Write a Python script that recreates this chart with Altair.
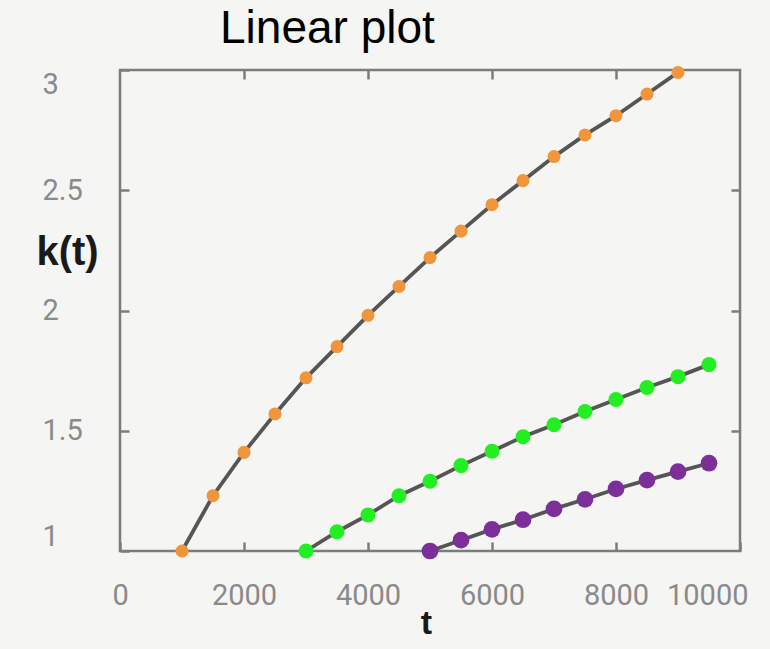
import altair as alt
import pandas as pd

# ---- data ----
series_names = ["t_i = 1000", "t_i = 3000", "t_i = 5000"]
series_colors = ["#F1953D", "#22EE22", "#7D2F99"]
series_sizes = [170, 280, 240]

t_orange = [1000, 1500, 2000, 2500, 3000, 3500, 4000, 4500, 5000,
            5500, 6000, 6500, 7000, 7500, 8000, 8500, 9000]
k_orange = [1.00, 1.23, 1.41, 1.57, 1.72, 1.85, 1.98, 2.10, 2.22,
            2.33, 2.44, 2.54, 2.64, 2.73, 2.81, 2.90, 2.99]

t_green = [3000, 3500, 4000, 4500, 5000, 5500, 6000, 6500, 7000,
           7500, 8000, 8500, 9000, 9500]
k_green = [1.00, 1.08, 1.15, 1.23, 1.29, 1.355, 1.415, 1.475, 1.525,
           1.58, 1.63, 1.68, 1.725, 1.775]

t_purple = [5000, 5500, 6000, 6500, 7000, 7500, 8000, 8500, 9000, 9500]
k_purple = [1.00, 1.045, 1.09, 1.13, 1.175, 1.215, 1.258, 1.295, 1.33, 1.365]

x_tick_values = [0, 2000, 4000, 6000, 8000, 10000]
y_tick_values = [1, 1.5, 2, 2.5, 3]
x_inner_ticks = [2000, 4000, 6000, 8000]
y_inner_ticks = [1.5, 2, 2.5]

rows = []
for name, ts, ks in zip(series_names, [t_orange, t_green, t_purple],
                        [k_orange, k_green, k_purple]):
    for t, k in zip(ts, ks):
        rows.append({"series": name, "t": t, "k": k})
df = pd.DataFrame(rows)

# ---- styling ----
TICK = 9
FRAME = "#7c7c7c"
LABEL = "#8a8a8a"

xscale = alt.Scale(domain=[0, 10000], nice=False, zero=False)
yscale = alt.Scale(domain=[1, 3], nice=False, zero=False)

lines = alt.Chart(df).mark_line(color="#555555", strokeWidth=3.8).encode(
    x=alt.X("t:Q", scale=xscale, axis=alt.Axis(
        orient="bottom", values=x_tick_values, format="d", offset=-TICK,
        domain=False, grid=False, tickSize=TICK, tickColor=FRAME, tickWidth=2.5,
        labelFont="Roboto", labelFontSize=29, labelColor=LABEL,
        labelPadding=30, labelFlush=True, labelFlushOffset=8,
        title="t", titleFont="Liberation Sans", titleFontSize=34,
        titleFontWeight="bold", titleColor="#1a1a1a",
        titleX=306, titleY=91, titleAlign="center", titleBaseline="alphabetic")),
    y=alt.Y("k:Q", scale=yscale, axis=alt.Axis(
        orient="left", values=y_tick_values, format="~g", offset=-TICK,
        domain=False, grid=False, tickSize=TICK, tickColor=FRAME, tickWidth=2.5,
        labelFont="Roboto", labelFontSize=29, labelColor=LABEL,
        labelAlign="left", labelPadding=78, labelFlush=True,
        title="k(t)", titleFont="Liberation Sans", titleFontSize=40,
        titleFontWeight="bold", titleColor="#1a1a1a", titleAngle=0,
        titleX=-62, titleY=194, titleAlign="center", titleBaseline="alphabetic")),
    detail="series:N",
)

points = alt.Chart(df).mark_circle(opacity=1).encode(
    x=alt.X("t:Q", scale=xscale, axis=alt.Axis(
        orient="top", values=x_inner_ticks, offset=-TICK, domain=False,
        grid=False, labels=False, tickSize=TICK, tickColor=FRAME,
        tickWidth=2.5, title=None)),
    y=alt.Y("k:Q", scale=yscale, axis=alt.Axis(
        orient="right", values=y_inner_ticks, offset=-TICK, domain=False,
        grid=False, labels=False, tickSize=TICK, tickColor=FRAME,
        tickWidth=2.5, title=None)),
    color=alt.Color("series:N", scale=alt.Scale(domain=series_names,
                                                 range=series_colors), legend=None),
    size=alt.Size("series:N", scale=alt.Scale(domain=series_names,
                                               range=series_sizes), legend=None),
)

chart = alt.layer(lines, points).resolve_axis(
    x="independent", y="independent"
).properties(
    width=620,
    height=481,
    title=alt.TitleParams("Linear plot", font="Liberation Sans", fontSize=46,
                          fontWeight="normal", color="#000000", anchor="start",
                          frame="group", dx=100, dy=51, offset=27,
                          baseline="alphabetic"),
    autosize=alt.AutoSizeParams(type="none"),
    padding={"left": 120, "top": 70, "right": 30, "bottom": 98},
    background="#f5f5f3",
).configure_view(stroke=FRAME, strokeWidth=2.5)

chart.save("out.html", embed_options={"renderer": "svg", "actions": False})
